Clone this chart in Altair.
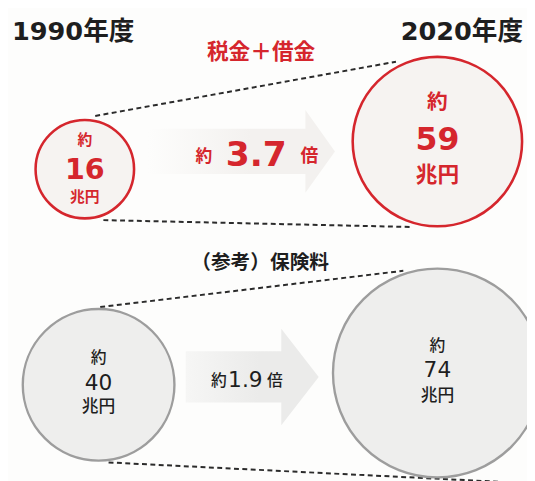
import math
import altair as alt
import pandas as pd

# ------------------------------------------------------------------ data
YEARS = [1990, 2020]
HEADERS = ["1990年度", "2020年度"]
ROW_TITLES = ["税金＋借金", "（参考）保険料"]
TAX_DEBT = [16, 59]       # 兆円 (tax + borrowing)
INSURANCE = [40, 74]      # 兆円 (insurance premiums, reference)
RATIOS = ["3.7", "1.9"]   # 約 ◯ 倍
APPROX = "約"
UNIT = "兆円"
TIMES = "倍"

# ------------------------------------------------------------------ layout / style
W, H = 527, 473
FONT = "Noto Sans CJK JP"
DIGITS = "DejaVu Sans"
MIXED = "DejaVu Sans, Noto Sans CJK JP"
RED = "#d5262d"
INK = "#1e1e1e"
DASH = "#2b2b2b"

ROWS = [
    dict(values=TAX_DEBT, ratio=RATIOS[0],
         x_px=(78, 436), y_px=(160, 132), diam=(100, 172),
         fill="#f6f3f1", stroke=RED, stroke_w=2.6,
         circ_text=[
             [(-30, 15, "bold"), (1, 29, "bold"), (28, 15, "bold")],
             [(-39, 21, "bold"), (-1, 32, "bold"), (34, 22, "bold")],
         ], text_color=RED,
         ratio_parts=[(APPROX, -58, 2, 17, "bold"), (None, -5, 0, 35, 900),
                      (TIMES, 49, 2, 18, "bold")],
         arrow=dict(dx=-20, dy=-4, half=95, shaft=0.242, head=0.442, base=0.684,
                    c0="#fdfdfc", c1="#f3f1ef"),
         trims=[(20, 27), (20, 24)]),
    dict(values=INSURANCE, ratio=RATIOS[1],
         x_px=(92, 436), y_px=(379, 367), diam=(154, 212),
         fill="#eeeeed", stroke="#9d9d9d", stroke_w=2.4,
         circ_text=[
             [(-27, 16, 500), (-2, 22, "normal"), (23, 17, 500)],
             [(-27, 16, 500), (-3, 22, "normal"), (23, 17, 500)],
         ], text_color=INK,
         ratio_parts=[(APPROX, -50, 2, 16, 500), (None, -23, 1, 22, "normal"),
                      (TIMES, 7, 2, 16, 500)],
         arrow=dict(dx=-16, dy=-2, half=67.5, shaft=0.385, head=0.726, base=0.437,
                    c0="#f6f6f5", c1="#ebebea"),
         trims=[(11, 22), (14, -84)]),
]


def lin(v, d0, d1, r0, r1):
    return r0 + (v - d0) / (d1 - d0) * (r1 - r0)


def tangent(c1, r1, c2, r2, side):
    dx, dy = c2[0] - c1[0], c2[1] - c1[1]
    d = math.hypot(dx, dy)
    ux, uy = dx / d, dy / d
    px, py = -uy, ux
    a = (r1 - r2) / d
    b = side * math.sqrt(1 - a * a)
    nx, ny = a * ux + b * px, a * uy + b * py
    return (c1[0] + r1 * nx, c1[1] + r1 * ny), (c2[0] + r2 * nx, c2[1] + r2 * ny)


def row_layer(cfg):
    vals = cfg["values"]
    x0, x1 = cfg["x_px"]
    y0, y1 = cfg["y_px"]
    sizes = [d * d for d in cfg["diam"]]

    X = alt.X("year:Q", axis=None,
              scale=alt.Scale(domain=YEARS, range=[x0, x1], nice=False, zero=False))
    Y = alt.Y("value:Q", axis=None,
              scale=alt.Scale(domain=vals, range=[y0, y1], nice=False, zero=False))

    def px(year, value):
        return (lin(year, YEARS[0], YEARS[1], x0, x1), lin(value, vals[0], vals[1], y0, y1))

    def radius(value):
        return math.sqrt(lin(value, vals[0], vals[1], sizes[0], sizes[1])) / 2 + cfg["stroke_w"] / 2

    def inv(p):
        return (lin(p[0], x0, x1, YEARS[0], YEARS[1]), lin(p[1], y0, y1, vals[0], vals[1]))

    circles = pd.DataFrame({"year": YEARS, "value": vals,
                            "num": [str(v) for v in vals]})

    # dashed connector lines (external tangents of the two circles)
    c1, c2 = px(YEARS[0], vals[0]), px(YEARS[1], vals[1])
    r1, r2 = radius(vals[0]), radius(vals[1])
    recs = []
    for k, side in enumerate([-1, 1]):
        p1, p2 = tangent(c1, r1, c2, r2, side)
        L = math.hypot(p2[0] - p1[0], p2[1] - p1[1])
        tx, ty = (p2[0] - p1[0]) / L, (p2[1] - p1[1]) / L
        ts, te = cfg["trims"][k]
        a = inv((p1[0] + tx * ts, p1[1] + ty * ts))
        b = inv((p2[0] - tx * te, p2[1] - ty * te))
        recs += [dict(line=k, year=a[0], value=a[1]), dict(line=k, year=b[0], value=b[1])]
    lines = alt.Chart(pd.DataFrame(recs)).mark_line(
        color=DASH, strokeWidth=2, strokeDash=[5, 3.5]
    ).encode(x=X, y=Y, detail="line:N")

    # arrow between the circles
    ar = cfg["arrow"]
    mid = ((c1[0] + c2[0]) / 2, (c1[1] + c2[1]) / 2)
    ac = inv((mid[0] + ar["dx"], mid[1] + ar["dy"]))
    s, hd, bs = ar["shaft"], ar["head"], ar["base"]
    path = (f"M-1,{-s} L{bs},{-s} L{bs},{-hd} L1,0 L{bs},{hd} L{bs},{s} L-1,{s} Z")
    arrow = alt.Chart(pd.DataFrame({"year": [ac[0]], "value": [ac[1]]})).mark_point(
        shape=path, size=(2 * ar["half"]) ** 2, filled=True, opacity=1, strokeWidth=0,
        fill={"gradient": "linear", "x1": 0, "y1": 0, "x2": 1, "y2": 0,
              "stops": [{"offset": 0, "color": ar["c0"]},
                        {"offset": 0.55, "color": ar["c1"]},
                        {"offset": 1, "color": ar["c1"]}]},
    ).encode(x=X, y=Y)

    circ = alt.Chart(circles).mark_circle(
        fill=cfg["fill"], stroke=cfg["stroke"], strokeWidth=cfg["stroke_w"], opacity=1
    ).encode(
        x=X, y=Y,
        size=alt.Size("value:Q", legend=None,
                      scale=alt.Scale(domain=vals, range=sizes, zero=False, nice=False)),
    )

    layers = [lines, arrow, circ]

    # text inside circles
    for i in range(2):
        d = circles.iloc[[i]].assign(a=APPROX, u=UNIT)
        for field, (dy, fs, fw) in zip(["a", "num", "u"], cfg["circ_text"][i]):
            layers.append(alt.Chart(d).mark_text(
                font=DIGITS if field == "num" else FONT,
                fontSize=fs, fontWeight=fw, color=cfg["text_color"],
                align="center", baseline="middle", dy=dy
            ).encode(x=X, y=Y, text=f"{field}:N"))

    # ratio text on the arrow
    rd = pd.DataFrame({"year": [sum(YEARS) / 2], "value": [sum(vals) / 2],
                       "a": [APPROX], "r": [cfg["ratio"]], "t": [TIMES]})
    for (txt, dx, dy, fs, fw), field in zip(cfg["ratio_parts"], ["a", "r", "t"]):
        layers.append(alt.Chart(rd).mark_text(
            font=DIGITS if field == "r" else FONT,
            fontSize=fs, fontWeight=fw, color=cfg["text_color"],
            align="center", baseline="middle", dx=dx, dy=dy
        ).encode(x=X, y=Y, text=f"{field}:N"))

    return alt.layer(*layers)


def title_text(txt, x, y, size, color, weight, font=FONT, align="center"):
    return alt.Chart(pd.DataFrame({"t": [txt]})).mark_text(
        font=font, fontSize=size, fontWeight=weight, color=color,
        align=align, baseline="middle"
    ).encode(x=alt.value(x), y=alt.value(y), text="t:N")


titles = alt.layer(
    title_text(HEADERS[0], 4, 21, 26, INK, "bold", font=MIXED, align="left"),
    title_text(HEADERS[1], 523, 21, 26, INK, "bold", font=MIXED, align="right"),
    title_text(ROW_TITLES[0], 257, 41, 22, RED, "bold"),
    title_text(ROW_TITLES[1], 256, 255, 20, INK, "bold"),
)

chart = alt.layer(
    row_layer(ROWS[0]), row_layer(ROWS[1]), titles
).resolve_scale(
    x="independent", y="independent", size="independent"
).properties(
    width=W, height=H, padding=0,
    autosize=alt.AutoSizeParams(type="none"),
    background="#fdfdfc",
).configure_view(stroke=None)

chart.save("out.html", embed_options={"renderer": "svg", "actions": False})
